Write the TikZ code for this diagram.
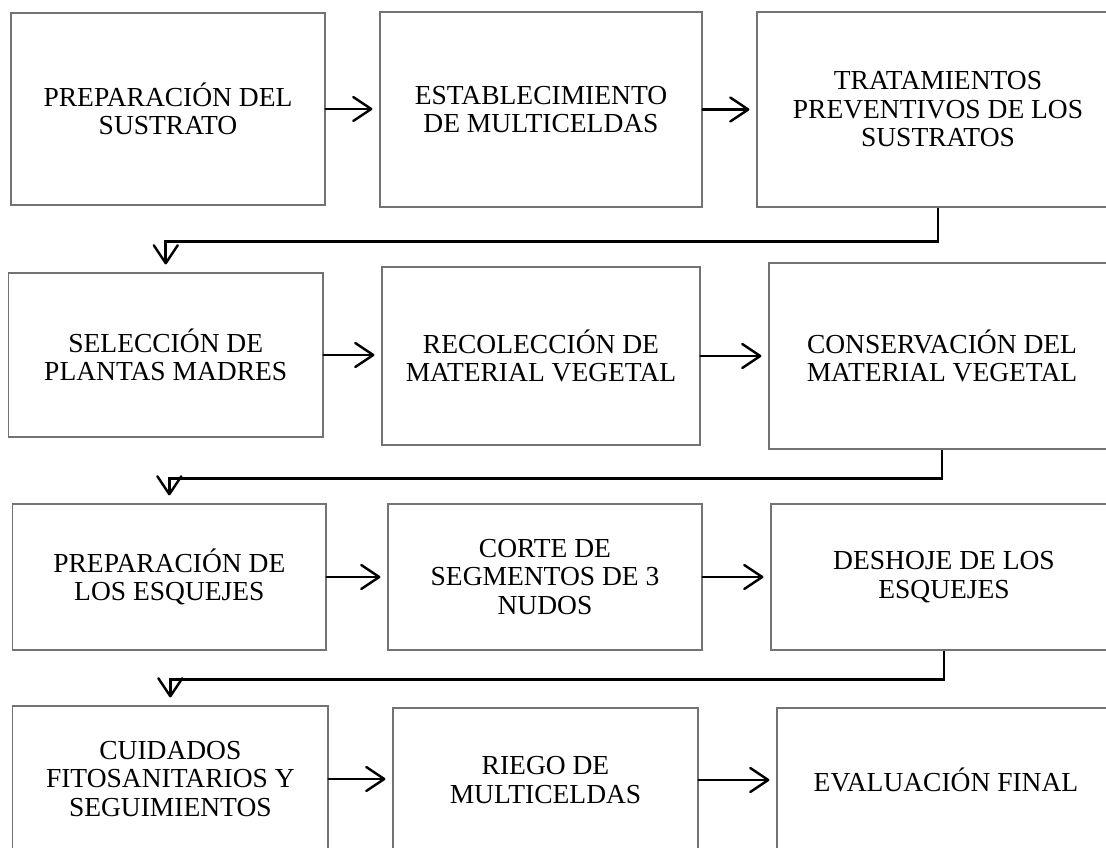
\documentclass[tikz,border=0pt]{standalone}
\usepackage{fontspec}
\setmainfont{Liberation Serif}
\usetikzlibrary{arrows.meta}
\begin{document}
\begin{tikzpicture}[x=1pt,y=-1pt,
  box/.style={draw=black!55, line width=1.1pt, fill=white, inner sep=0pt, align=center,
    font=\fontsize{27.5}{28.5}\selectfont},
  flow/.style={line width=2.4pt, line cap=round, line join=miter,
    -{Straight Barb[length=18pt,width=24pt,line width=2.4pt,round]}, shorten >=7pt},
  turn/.style={line width=2.6pt, line join=miter,
    -{Straight Barb[length=18pt,width=24pt,line width=2.4pt,round]}, shorten >=8pt}]
\fill[white] (0,0) rectangle (1106,848);
\useasboundingbox (0,0) rectangle (1106,848);
% row 1
\node[box, minimum width=314pt, minimum height=192pt] (a1) at (168,109) {PREPARACIÓN DEL\\SUSTRATO};
\node[box, minimum width=322pt, minimum height=195pt] (a2) at (541,109.5) {ESTABLECIMIENTO\\DE MULTICELDAS};
\node[box, minimum width=362pt, minimum height=195pt] (a3) at (938,109.5) {TRATAMIENTOS\\PREVENTIVOS DE LOS\\SUSTRATOS};
% row 2
\node[box, minimum width=314.5pt, minimum height=164pt] (b1) at (165.75,355) {SELECCIÓN DE\\PLANTAS MADRES};
\node[box, minimum width=318pt, minimum height=178pt] (b2) at (541,356) {RECOLECCIÓN DE\\MATERIAL VEGETAL};
\node[box, minimum width=346pt, minimum height=186pt] (b3) at (942,356) {CONSERVACIÓN DEL\\MATERIAL VEGETAL};
% row 3
\node[box, minimum width=313.3pt, minimum height=146pt] (c1) at (169.35,577) {PREPARACIÓN DE\\LOS ESQUEJES};
\node[box, minimum width=314pt, minimum height=146pt] (c2) at (545,577) {CORTE DE\\SEGMENTOS DE 3\\NUDOS};
\node[box, minimum width=346pt, minimum height=146pt] (c3) at (944,577) {DESHOJE DE LOS\\ESQUEJES};
% row 4
\node[box, minimum width=315.3pt, minimum height=146pt] (d1) at (170.35,779) {CUIDADOS\\FITOSANITARIOS Y\\SEGUIMIENTOS};
\node[box, minimum width=305pt, minimum height=144pt] (d2) at (545.5,780) {RIEGO DE\\MULTICELDAS};
\node[box, minimum width=338pt, minimum height=144pt] (d3) at (946,780) {EVALUACIÓN FINAL};
% horizontal arrows
\draw[flow] (a1.east) -- (a1.east -| a2.west);
\draw[flow] (a2.east) -- (a2.east -| a3.west);
\draw[flow] (b1.east) -- (b1.east -| b2.west);
\draw[flow] (b2.east) -- (b2.east -| b3.west);
\draw[flow] (c1.east) -- (c1.east -| c2.west);
\draw[flow] (c2.east) -- (c2.east -| c3.west);
\draw[flow] (d1.east) -- (d1.east -| d2.west);
\draw[flow] (d2.east) -- (d2.east -| d3.west);
% row connectors
\draw[turn] (a3.south) -- ++(0,34) -| (b1.north);
\draw[turn] (b3.south) -- ++(0,29) -| (c1.north);
\draw[turn] (c3.south) -- ++(0,29) -| (d1.north);
\end{tikzpicture}
\end{document}
